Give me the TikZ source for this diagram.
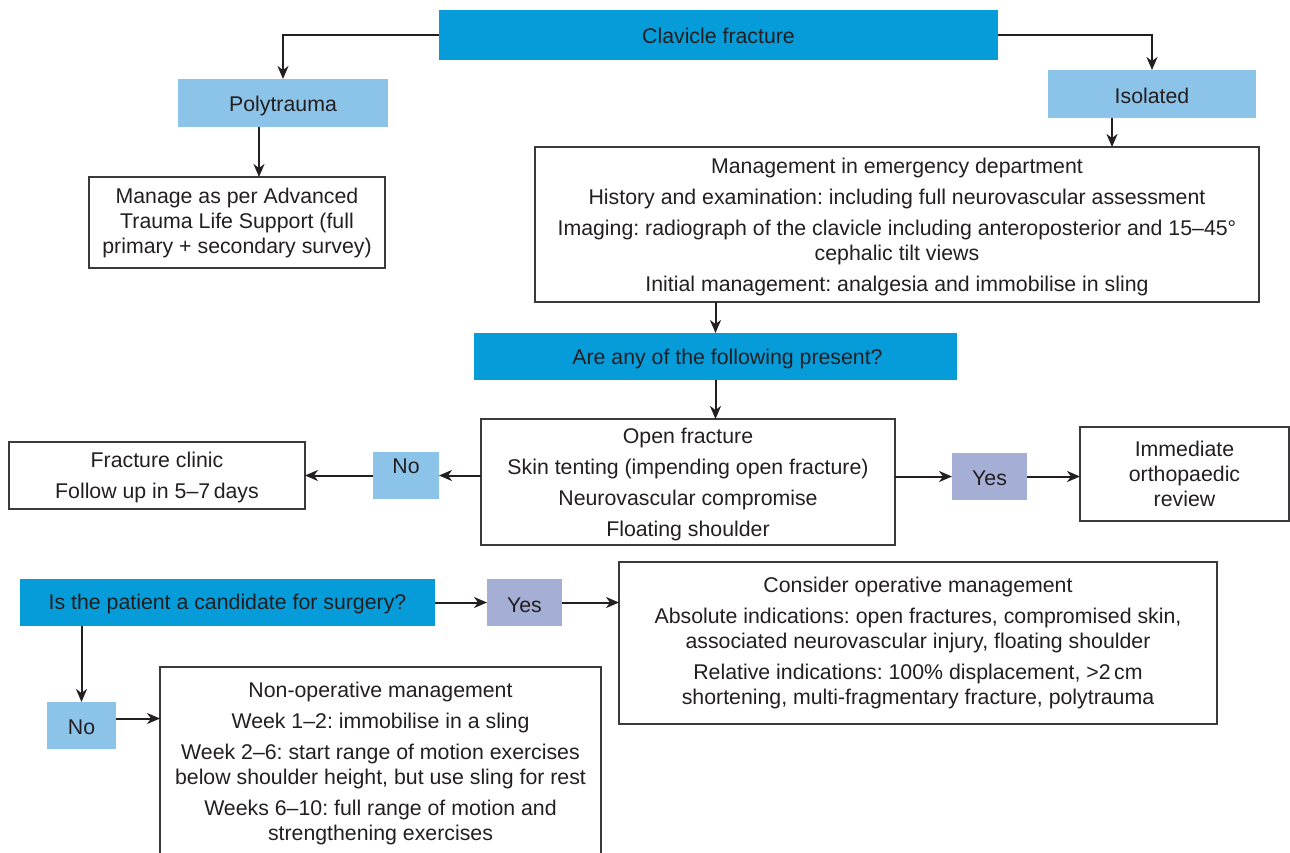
\documentclass[tikz,border=0pt]{standalone}
\usepackage{fontspec}
\setmainfont{Liberation Sans}
\usetikzlibrary{arrows.meta,calc}
\definecolor{cDark}{HTML}{069CD9}
\definecolor{cLight}{HTML}{8CC3E9}
\definecolor{cLav}{HTML}{A5AED4}
\definecolor{cText}{HTML}{231F20}
\definecolor{cBorder}{HTML}{3A3A3C}
\frenchspacing
\tikzset{
  base/.style={inner sep=0pt, outer sep=0pt, align=center, text=cText,
    font=\fontsize{21.3}{25}\selectfont},
  darkbox/.style={base, fill=cDark},
  lightbox/.style={base, fill=cLight},
  lavbox/.style={base, fill=cLav},
  whitebox/.style={base, draw=cBorder, line width=1.5pt, fill=white},
  arr/.style={draw=cText, line width=2pt, -{Stealth[length=13pt,width=11pt,inset=4pt]}},
}
\newcommand{\pg}{\\[6pt]}
\newcommand{\dn}[2][-2.5pt]{\raisebox{#1}[\height][\depth]{#2}}
\begin{document}
\begin{tikzpicture}[x=1pt,y=-1pt]
\useasboundingbox (0,0) rectangle (1290,852);
% nodes
\node[darkbox, minimum width=559pt, minimum height=50pt] (clav) at (718.5,35) {\dn[-1pt]{Clavicle fracture}};
\node[lightbox, minimum width=210pt, minimum height=48pt] (poly) at (283,103) {\dn{Polytrauma}};
\node[lightbox, minimum width=208pt, minimum height=48pt] (iso) at (1152,94) {\dn[-1.5pt]{Isolated}};
\node[whitebox, minimum width=296pt, minimum height=91pt] (manage) at (237,222.5)
  {Manage as per Advanced\\Trauma Life Support (full\\primary + secondary survey)};
\node[whitebox, minimum width=724pt, minimum height=155pt] (mgmt) at (897,224.5)
  {\rule{0pt}{21pt}Management in emergency department\pg
   History and examination: including full neurovascular assessment\pg
   Imaging: radiograph of the clavicle including anteroposterior and 15–45°\\
   cephalic tilt views\pg
   Initial management: analgesia and immobilise in sling};
\node[darkbox, minimum width=483pt, minimum height=47pt] (any) at (715.5,356.5) {\dn{\hspace*{24pt}Are any of the following present?}};
\node[whitebox, minimum width=414pt, minimum height=126pt] (open) at (688,482)
  {\rule{0pt}{21pt}Open fracture\pg Skin tenting (impending open fracture)\pg Neurovascular compromise\pg Floating shoulder};
\node[lightbox, minimum width=66pt, minimum height=47pt] (no1) at (406,475.5) {\dn[9pt]{No}};
\node[whitebox, minimum width=296pt, minimum height=67pt] (fclin) at (157,475.5)
  {\rule{0pt}{20pt}Fracture clinic\pg Follow up in 5–7\,days};
\node[lavbox, minimum width=75pt, minimum height=47pt] (yes1) at (989.5,476.5) {\dn[-1.5pt]{Yes}};
\node[whitebox, minimum width=209pt, minimum height=94pt] (imm) at (1184.5,474)
  {Immediate\\orthopaedic\\review};
\node[darkbox, minimum width=415pt, minimum height=47pt] (cand) at (227.5,602.5) {\dn[-1.5pt]{Is the patient a candidate for surgery?}};
\node[lavbox, minimum width=75pt, minimum height=47pt] (yes2) at (524.5,602.5) {\dn[-2.5pt]{Yes}};
\node[whitebox, minimum width=598pt, minimum height=162pt] (cons) at (918,643)
  {Consider operative management\pg
   Absolute indications: open fractures, compromised skin,\\
   associated neurovascular injury, floating shoulder\pg
   Relative indications: 100\% displacement, >2\,cm\\
   shortening, multi-fragmentary fracture, polytrauma};
\node[lightbox, minimum width=69pt, minimum height=47pt] (no2) at (81.5,725.5) {\dn[-1.5pt]{No}};
\node[whitebox, minimum width=441pt, minimum height=193pt] (nonop) at (380.5,763.5)
  {Non-operative management\pg
   Week 1–2: immobilise in a sling\pg
   Week 2–6: start range of motion exercises\\
   below shoulder height, but use sling for rest\pg
   Weeks 6–10: full range of motion and\\
   strengthening exercises};
% connectors
\draw[arr] (clav.west) -| (poly.north);
\draw[arr] (clav.east) -| (iso.north);
\draw[arr] ([xshift=-24pt]poly.south) -- ([xshift=-24pt]poly.south |- manage.north);
\draw[arr] ([xshift=-40pt]iso.south) -- ([xshift=-40pt]iso.south |- mgmt.north);
\draw[arr] (any.north |- mgmt.south) -- (any.north);
\draw[arr] (any.south) -- (any.south |- open.north);
\draw[arr] (no1.east -| open.west) -- (no1.east);
\draw[arr] (no1.west) -- (no1.west -| fclin.east);
\draw[arr] (yes1.west -| open.east) -- (yes1.west);
\draw[arr] (yes1.east) -- (yes1.east -| imm.west);
\draw[arr] (cand.east) -- (yes2.west);
\draw[arr] (yes2.east) -- (yes2.east -| cons.west);
\draw[arr] (no2.north |- cand.south) -- (no2.north);
\draw[arr] ([yshift=7pt]no2.east) -- ([yshift=7pt]no2.east -| nonop.west);
\end{tikzpicture}
\end{document}
